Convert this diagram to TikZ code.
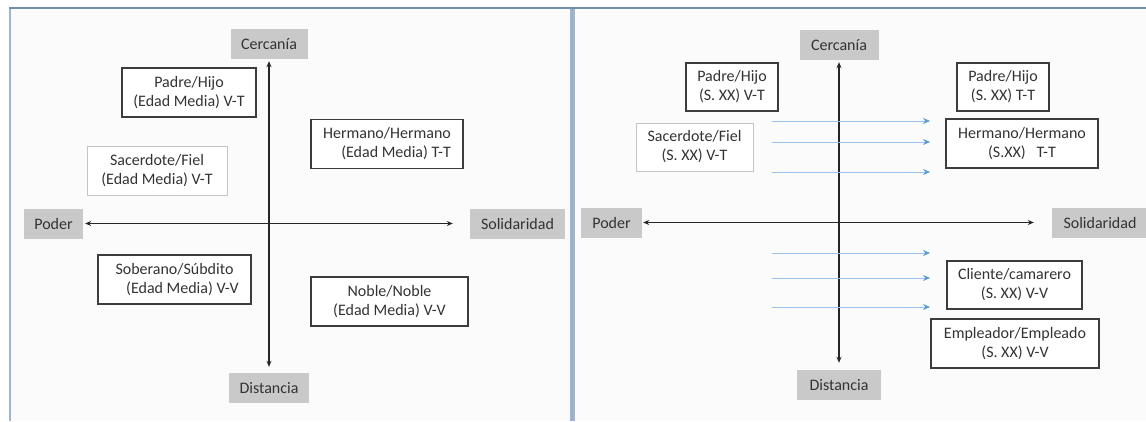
\documentclass[tikz,border=0pt]{standalone}
\usepackage{fontspec}
\setmainfont{Carlito}
\usetikzlibrary{arrows.meta}
\definecolor{frameblue}{HTML}{6F8FAE}
\definecolor{frameside}{HTML}{9FB6CE}
\definecolor{panelbg}{HTML}{FBFBFB}
\definecolor{tagfill}{HTML}{C9C9C9}
\definecolor{txtgray}{HTML}{333333}
\definecolor{boxgray}{HTML}{3C3C3C}
\definecolor{faintgray}{HTML}{C4C4C4}
\definecolor{axisgray}{HTML}{262626}
\definecolor{shiftblue}{HTML}{9CC2E8}
\definecolor{tipblue}{HTML}{5B9BD5}

\begin{document}
\begin{tikzpicture}[x=1pt,y=-1pt,
        font=\fontsize{16}{19}\selectfont,
        axisline/.style={draw=axisgray,line width=1.3pt,
            {Stealth[length=6pt,width=5pt]}-{Stealth[length=6pt,width=5pt]}},
        tagbox/.style={fill=tagfill,text=txtgray,minimum height=30pt,inner sep=0pt},
        pairbox/.style={draw=boxgray,line width=1.6pt,fill=white,text=txtgray,
            align=center,inner sep=0pt,minimum height=49pt},
        faintbox/.style={pairbox,draw=faintgray,line width=1pt},
        shiftarrow/.style={draw=shiftblue,line width=0.8pt,
            -{Stealth[length=7pt,width=6pt,color=tipblue,fill=tipblue]}}]

\useasboundingbox (0,0) rectangle (1146,421);
\fill[white] (0,0) rectangle (1146,421);
\fill[panelbg] (10,8) rectangle (1146,421);
\draw[frameside,line width=2.5pt] (10,8) -- (10,421);
\draw[frameside,line width=5pt] (572,8) -- (572,421);
\draw[frameblue!70,line width=1.2pt] (572,8) -- (572,421);
\draw[frameblue,line width=2.5pt] (9,8) -- (1146,8);

% Edad Media
\node[tagbox,minimum width=77pt] (cercL) at (269,44) {Cercanía};
\node[tagbox,minimum width=80pt] (distL) at (269,388) {Distancia};
\node[tagbox,minimum width=59pt] (podL) at (53.5,223.5) {Poder};
\node[tagbox,minimum width=95pt] (solL) at (517.5,223.5) {Solidaridad};

\draw[axisline,shorten <=2pt,shorten >=6pt] (cercL.south) -- (distL.north);
\draw[axisline,shorten <=2pt,shorten >=17pt] (podL.east) -- (solL.west);

\node[pairbox,minimum width=134pt] (padreL) at (189,92.5) {Padre/Hijo\\(Edad Media) V-T};
\node[pairbox,minimum width=152pt,align=right] (hermL) at (387,144) {Hermano/Hermano\\(Edad Media) T-T};
\node[faintbox,minimum width=140pt] (sacL) at (157,170.5) {Sacerdote/Fiel\\(Edad Media) V-T};
\node[pairbox,minimum width=153pt] (sobL) at (174.5,279.5) {Soberano/Súbdito\\\quad(Edad Media) V-V};
\node[pairbox,minimum width=157pt] (nobL) at (389.5,301.5) {Noble/Noble\\(Edad Media) V-V};

% Siglo XX
\node[tagbox,minimum width=79pt] (cercR) at (839,45) {Cercanía};
\node[tagbox,minimum width=84pt] (distR) at (839,385) {Distancia};
\node[tagbox,minimum width=61pt] (podR) at (611.5,222.5) {Poder};
\node[tagbox,minimum width=96pt] (solR) at (1100,222.5) {Solidaridad};

\draw[axisline,shorten <=2pt,shorten >=7pt] (cercR.south) -- (distR.north);
\draw[axisline,shorten <=1pt,shorten >=18pt] (podR.east) -- (solR.west);

\foreach \y [count=\i] in {121,142,172,253,278,307} {
    \coordinate (s\i) at (772,\y);
    \coordinate (e\i) at (930,\y);
    \draw[shiftarrow] (s\i) -- (e\i);
}

\node[pairbox,minimum width=92pt,minimum height=48pt] (padreR1) at (732,87) {Padre/Hijo\\(S. XX) V-T};
\node[faintbox,minimum width=117pt,minimum height=48pt] (sacR) at (694.5,147) {Sacerdote/Fiel\\(S. XX) V-T};
\node[pairbox,minimum width=92pt,minimum height=48pt] (padreR2) at (1003,87) {Padre/Hijo\\(S. XX) T-T};
\node[pairbox,minimum width=152pt] (hermR) at (1022,143.5) {Hermano/Hermano\\(S.XX)~~~T-T};
\node[pairbox,minimum width=135pt,minimum height=48pt] (cliR) at (1014.5,285) {Cliente/camarero\\(S. XX) V-V};
\node[pairbox,minimum width=168pt] (empR) at (1015,343.5) {Empleador/Empleado\\(S. XX) V-V};
\end{tikzpicture}
\end{document}
